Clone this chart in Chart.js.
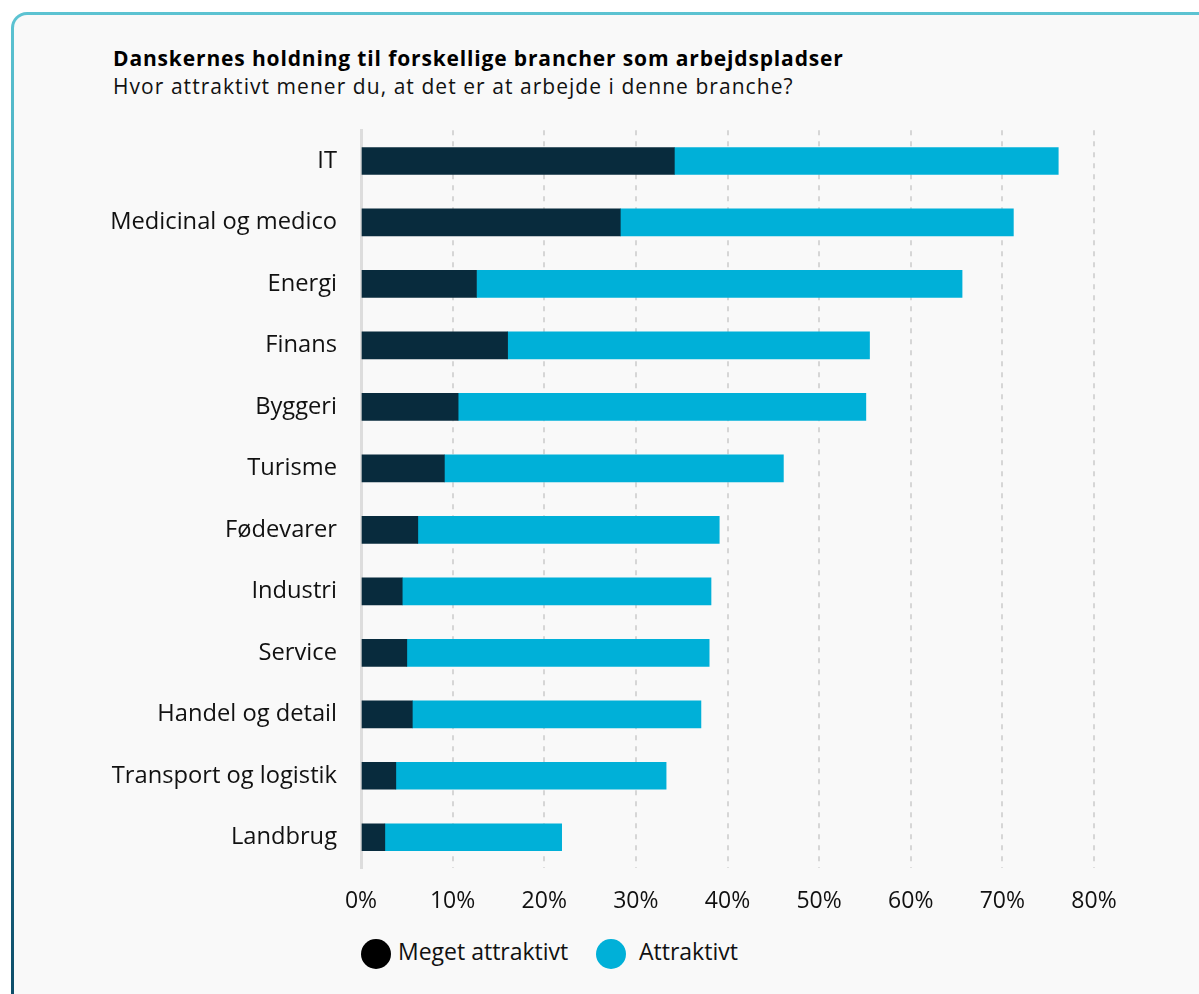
<!DOCTYPE html>
<html>
<head>
<meta charset="utf-8">
<script src="https://cdn.jsdelivr.net/npm/chart.js@4.4.1/dist/chart.umd.min.js"></script>
<style>
  body { margin: 0; background: #fff; font-family: "Open Sans", sans-serif; overflow: hidden; }
  #card {
    position: absolute; left: 11px; top: 12px; width: 1210px; height: 1010px;
    box-sizing: border-box; border: 3px solid transparent; border-radius: 16px;
    background: linear-gradient(#f9f9f9, #f9f9f9) padding-box,
                linear-gradient(to bottom, #5cc3d2 0%, #2d8fa8 50%, #0c4a66 100%) border-box;
  }
  #title { position: absolute; left: 113px; top: 44px; font-size: 21px; font-weight: 700; letter-spacing: 0.85px; color: #000; white-space: nowrap; }
  #subtitle { position: absolute; left: 113px; top: 72px; font-size: 21px; letter-spacing: 1.05px; color: #111; white-space: nowrap; }
  #chartWrap { position: absolute; left: 0; top: 92px; width: 1199px; height: 838px; }
  #legend { position: absolute; left: 361px; top: 935px; font-size: 23px; color: #111; }
  .item { position: absolute; top: 0; white-space: nowrap; line-height: 32px; }
  .dot { display: inline-block; width: 30px; height: 30px; border-radius: 50%; vertical-align: middle; margin-right: 7px; }
</style>
</head>
<body>
<div id="card"></div>
<div id="title">Danskernes holdning til forskellige brancher som arbejdspladser</div>
<div id="subtitle">Hvor attraktivt mener du, at det er at arbejde i denne branche?</div>
<div id="chartWrap"><canvas id="chartBrancher"></canvas></div>
<div id="legend">
  <div class="item" style="left:0"><span class="dot" style="background:#000"></span>Meget attraktivt</div>
  <div class="item" style="left:235px"><span class="dot" style="background:#00b0d8; margin-right:13px"></span>Attraktivt</div>
</div>
<script>
var categories = ['IT', 'Medicinal og medico', 'Energi', 'Finans', 'Byggeri', 'Turisme',
    'Fødevarer', 'Industri', 'Service', 'Handel og detail', 'Transport og logistik', 'Landbrug'];
var megetAttraktivt = [34.2, 28.3, 12.6, 16.0, 10.6, 9.1, 6.2, 4.5, 5.0, 5.6, 3.8, 2.6];
var attraktivt = [41.9, 42.9, 53.0, 39.5, 44.5, 37.0, 32.9, 33.7, 33.0, 31.5, 29.5, 19.3];
var xTicks = [0, 10, 20, 30, 40, 50, 60, 70, 80];

var ctx = document.getElementById('chartBrancher');
var myChart = new Chart(ctx, {
    type: 'bar',
    data: {
        labels: categories,
        datasets: [{
            label: 'Meget attraktivt',
            data: megetAttraktivt,
            backgroundColor: '#082b3d',
            barThickness: 27
        }, {
            label: 'Attraktivt',
            data: attraktivt,
            backgroundColor: '#00b0d8',
            barThickness: 27
        }]
    },
    options: {
        indexAxis: 'y',
        responsive: true,
        maintainAspectRatio: false,
        animation: false,
        layout: { padding: { left: 0, right: 105, top: 0, bottom: 0 } },
        plugins: {
            legend: { display: false },
            tooltip: { enabled: false }
        },
        scales: {
            x: {
                stacked: true,
                min: 0,
                max: 80,
                afterBuildTicks: function(axis) {
                    axis.ticks = xTicks.map(function(v) { return { value: v }; });
                },
                afterFit: function(axis) { axis.height = 62; },
                ticks: {
                    padding: 20,
                    color: '#111',
                    font: { family: 'Open Sans', size: 23 },
                    callback: function(v) { return v + '%'; }
                },
                grid: {
                    drawTicks: false,
                    lineWidth: 2,
                    color: function(c) { return c.index === 0 ? 'rgba(0,0,0,0)' : '#d6d6d6'; }
                },
                border: { display: false, dash: [5, 6] }
            },
            y: {
                stacked: true,
                afterFit: function(axis) { axis.width = 361; },
                ticks: {
                    padding: 24,
                    color: '#111',
                    font: { family: 'Open Sans', size: 23.7 }
                },
                grid: { display: false, drawTicks: false },
                border: { display: true, color: '#dddddd', width: 3 }
            }
        }
    }
});
</script>
</body>
</html>
